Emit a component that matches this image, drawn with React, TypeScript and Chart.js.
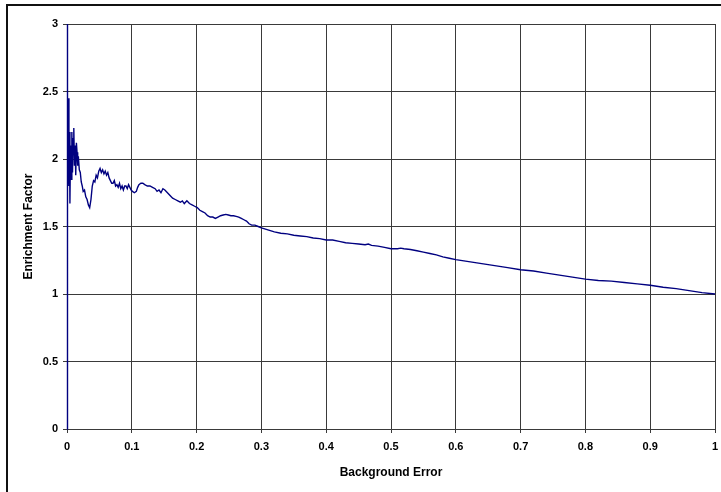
import React, { useEffect, useRef } from "react";
import { Chart, registerables } from "chart.js";

Chart.register(...registerables);

const xTickLabels = ["0", "0.1", "0.2", "0.3", "0.4", "0.5", "0.6", "0.7", "0.8", "0.9", "1"];
const yTickLabels = ["0", "0.5", "1", "1.5", "2", "2.5", "3"];

const errX = [
  0, 0, 0.0008, 0.0015, 0.002, 0.003, 0.0038, 0.0045, 0.0055, 0.0065, 0.0075, 0.0085, 0.0095,
  0.0105, 0.0115, 0.0125, 0.0135, 0.0145, 0.0155, 0.0165, 0.0175, 0.019, 0.0205, 0.022, 0.0235,
  0.025, 0.027, 0.029, 0.031, 0.033, 0.035, 0.037, 0.039, 0.041, 0.043, 0.045, 0.047, 0.049,
  0.051, 0.053, 0.055, 0.057, 0.059, 0.061, 0.063, 0.065, 0.067, 0.069, 0.071, 0.073, 0.075,
  0.077, 0.079, 0.081, 0.083, 0.085, 0.087, 0.089, 0.091, 0.093, 0.095, 0.097, 0.099, 0.101,
  0.104, 0.107, 0.109, 0.111, 0.114, 0.117, 0.12, 0.124, 0.128, 0.132, 0.136, 0.139, 0.142,
  0.145, 0.148, 0.151, 0.155, 0.159, 0.163, 0.167, 0.171, 0.175, 0.178, 0.181, 0.185, 0.189,
  0.193, 0.197, 0.201, 0.205, 0.209, 0.213, 0.217, 0.221, 0.225, 0.229, 0.233, 0.237, 0.241,
  0.245, 0.249, 0.253, 0.257, 0.261, 0.265, 0.269, 0.273, 0.277, 0.281, 0.285, 0.29, 0.295,
  0.3, 0.31, 0.32, 0.33, 0.34, 0.35, 0.36, 0.37, 0.38, 0.39, 0.4, 0.41, 0.42, 0.43, 0.44, 0.45,
  0.46, 0.465, 0.47, 0.48, 0.49, 0.5, 0.51, 0.515, 0.52, 0.53, 0.54, 0.55, 0.56, 0.57, 0.58,
  0.59, 0.6, 0.62, 0.64, 0.66, 0.68, 0.7, 0.72, 0.74, 0.76, 0.78, 0.8, 0.82, 0.84, 0.86, 0.88,
  0.9, 0.92, 0.94, 0.96, 0.98, 1.0,
];

const enrichment = [
  0, 3, 2.75, 2.0, 2.45, 1.8, 2.2, 1.67, 2.1, 1.85, 2.2, 1.9, 2.15,
  2.23, 1.95, 2.1, 1.88, 2.12, 2.05, 1.95, 2.02, 1.92, 1.9, 1.83, 1.8,
  1.76, 1.77, 1.72, 1.7, 1.66, 1.64, 1.7, 1.8, 1.84, 1.83, 1.88, 1.86, 1.91,
  1.93, 1.9, 1.92, 1.89, 1.91, 1.88, 1.9, 1.86, 1.84, 1.82, 1.82, 1.84, 1.8,
  1.81, 1.79, 1.82, 1.78, 1.8, 1.77, 1.8, 1.8, 1.78, 1.81, 1.79, 1.77, 1.76,
  1.75, 1.76, 1.79, 1.81, 1.82, 1.82, 1.81, 1.8, 1.8, 1.79, 1.78, 1.76, 1.77,
  1.75, 1.78, 1.77, 1.75, 1.73, 1.71, 1.7, 1.69, 1.68, 1.69, 1.67, 1.69, 1.67,
  1.66, 1.65, 1.64, 1.62, 1.61, 1.6, 1.58, 1.57, 1.57, 1.56, 1.57, 1.58, 1.585,
  1.59, 1.585, 1.58, 1.58, 1.575, 1.57, 1.56, 1.55, 1.54, 1.52, 1.51, 1.51, 1.5,
  1.49, 1.475, 1.46, 1.45, 1.445, 1.435, 1.43, 1.425, 1.415, 1.41, 1.4, 1.4, 1.39, 1.38, 1.375, 1.37,
  1.365, 1.37, 1.36, 1.355, 1.345, 1.335, 1.335, 1.34, 1.335, 1.33, 1.32, 1.31, 1.3, 1.29, 1.275,
  1.265, 1.255, 1.24, 1.225, 1.21, 1.195, 1.18, 1.17, 1.155, 1.14, 1.125, 1.11, 1.1, 1.095, 1.085, 1.075,
  1.065, 1.05, 1.04, 1.025, 1.01, 1.0,
];

const FONT = "'Liberation Sans', Arial, sans-serif";

const frame = {
  id: "frame",
  beforeDraw(chart: any) {
    const ctx = chart.ctx;
    ctx.save();
    ctx.fillStyle = "#ffffff";
    ctx.fillRect(0, 0, chart.width, chart.height);
    ctx.fillStyle = "#111111";
    ctx.fillRect(6, 4, chart.width - 6, 2);
    ctx.fillRect(6, 4, 2, chart.height - 4);
    ctx.restore();
  },
};

export default function App() {
  const ref = useRef<HTMLCanvasElement | null>(null);

  useEffect(() => {
    if (!ref.current) return;
    const points = errX.map((x, i) => ({ x, y: enrichment[i] }));
    const gridColor = "#3a3a3a";
    const chart = new Chart(ref.current, {
      type: "line",
      data: {
        datasets: [
          {
            data: points,
            borderColor: "#000080",
            borderWidth: 1.4,
            pointRadius: 0,
            tension: 0,
            fill: false,
            clip: 4,
          },
        ],
      },
      options: {
        animation: false,
        responsive: false,
        maintainAspectRatio: false,
        layout: { padding: { left: 0, top: 24, right: 6, bottom: 0 } },
        plugins: { legend: { display: false }, tooltip: { enabled: false } },
        scales: {
          x: {
            type: "linear",
            min: 0,
            max: 1,
            afterFit: (s: any) => {
              s.height = 63;
              s.paddingLeft = 0;
              s.paddingRight = 0;
            },
            afterBuildTicks: (s: any) => {
              s.ticks = xTickLabels.map((l) => ({ value: parseFloat(l) }));
            },
            ticks: {
              autoSkip: false,
              maxRotation: 0,
              padding: 7,
              color: "#000",
              font: { family: FONT, size: 11, weight: "bold" },
              callback: (_v: any, i: number) => xTickLabels[i],
            },
            grid: { color: gridColor, lineWidth: 1, tickLength: 4, drawTicks: true },
            border: { display: true, color: gridColor, width: 1 },
            title: {
              display: true,
              text: "Background Error",
              color: "#000",
              font: { family: FONT, size: 12, weight: "bold" },
              padding: { top: 4, bottom: 12 },
            },
          },
          y: {
            type: "linear",
            min: 0,
            max: 3,
            afterFit: (s: any) => {
              s.width = 67;
              s.paddingTop = 0;
              s.paddingBottom = 0;
            },
            afterBuildTicks: (s: any) => {
              s.ticks = yTickLabels.map((l) => ({ value: parseFloat(l) }));
            },
            ticks: {
              autoSkip: false,
              padding: 5,
              color: "#000",
              font: { family: FONT, size: 11, weight: "bold" },
              callback: (_v: any, i: number) => yTickLabels[i],
            },
            grid: { color: gridColor, lineWidth: 1, tickLength: 4, drawTicks: true },
            border: { display: true, color: gridColor, width: 1 },
            title: {
              display: true,
              text: "Enrichment Factor",
              color: "#000",
              font: { family: FONT, size: 12, weight: "bold" },
              padding: { top: 21, bottom: 4 },
            },
          },
        },
      },
      plugins: [frame],
    });
    return () => chart.destroy();
  }, []);

  return (
    <div style={{ position: "fixed", left: 0, top: 0, width: 721, height: 492, background: "#fff" }}>
      <canvas ref={ref} width={721} height={492} style={{ display: "block", width: 721, height: 492 }} />
    </div>
  );
}
